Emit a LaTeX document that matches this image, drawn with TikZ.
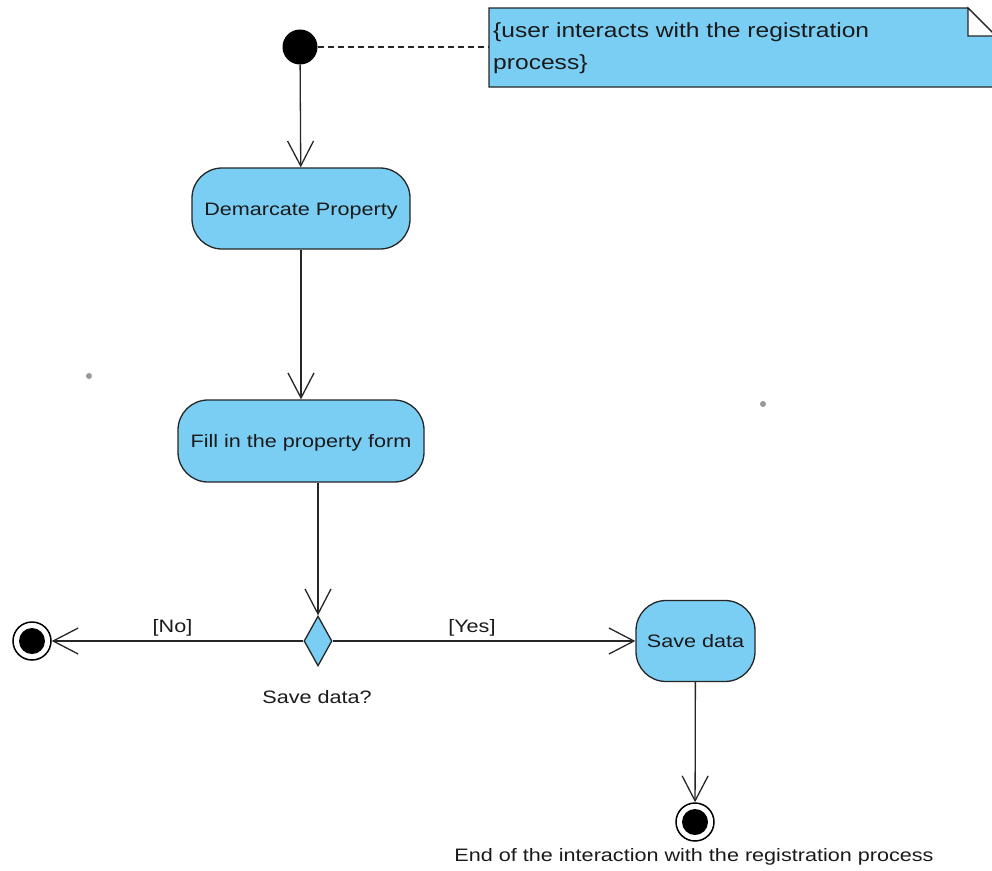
\documentclass[tikz,border=0pt]{standalone}
\usepackage{fontspec}
\setmainfont{Liberation Sans}
\newfontfamily\umlfont[FakeStretch=1.2]{Liberation Sans}
\usetikzlibrary{arrows.meta,shapes.geometric}
\definecolor{umlblue}{RGB}{122,206,244}
\definecolor{umltext}{RGB}{26,26,26}

\begin{document}
\begin{tikzpicture}[x=1pt,y=-1pt,
  action/.style={draw=black!85, line width=1.3pt, fill=umlblue,
    rounded corners=30pt, inner sep=0pt, text=umltext,
    text height=13pt, text depth=0pt,
    font=\umlfont\fontsize{18}{22}\selectfont},
  decision/.style={diamond, draw=black!85, line width=1.3pt, fill=umlblue,
    minimum width=28pt, minimum height=50pt, inner sep=0pt},
  initial/.style={circle, fill=black, minimum size=35pt, inner sep=0pt},
  final/.style={circle, draw=black, line width=1.5pt, fill=white,
    minimum size=38pt, inner sep=0pt,
    path picture={\fill[black] (path picture bounding box.center) circle (13pt);}},
  flow/.style={draw=black!85, line width=1.3pt,
    -{Straight Barb[length=25pt,width=26pt]}},
  guard/.style={text=umltext, font=\umlfont\fontsize{18}{21}\selectfont},
  anchorline/.style={draw=black!85, line width=1.2pt, dash pattern=on 6pt off 4pt},
  dot/.style={fill=black!40}
]
\useasboundingbox (0,0) rectangle (992,870);
\clip (0,0) rectangle (992,870);

% comment note with a folded corner
\filldraw[fill=umlblue, draw=black!85, line width=1.3pt]
  (489,8) -- (968,8) -- (996,36) -- (996,87) -- (489,87) -- cycle;
\filldraw[fill=white, draw=black!85, line width=1.3pt]
  (968,8) -- (968,36) -- (996,36) -- cycle;
\node[anchor=north west, align=left, inner sep=0pt, text=umltext,
  font=\umlfont\fontsize{20.5}{32}\selectfont] (notetext) at (493,22)
  {\{user interacts with the registration\\process\}};
\coordinate (noteedge) at (489,47);

% activity nodes
\node[initial] (start) at (300,47) {};
\node[action, minimum width=218pt, minimum height=81pt] (demarcate) at (301,208.5) {Demarcate Property};
\node[action, minimum width=246pt, minimum height=82pt] (fill) at (301,441) {Fill in the property form};
\node[decision] (dec) at (318,641) {};
\node[action, minimum width=119pt, minimum height=81pt] (save) at (695.5,641) {Save data};
\node[final] (endL) at (32,641) {};
\node[final] (endB) at (695,822) {};

% node labels
\node[guard] (declabel) at (317,697) {Save data?};
\node[guard] (endlabel) at (694,857) {End of the interaction with the registration process};

% connectors
\draw[anchorline] (start.east) -- (noteedge);
\draw[flow] (start) -- (demarcate);
\draw[flow] (demarcate) -- (fill);
\draw[flow] (dec |- fill.south) -- (dec.north);
\draw[flow] (dec.west) -- node[guard, above=1pt, pos=0.52] (nolabel) {[No]} (endL);
\draw[flow] (dec.east) -- node[guard, above=1pt, pos=0.46] (yeslabel) {[Yes]} (save.west);
\draw[flow] (save) -- (endB);

% stray grid dots
\fill[dot] (89,376) circle (3pt);
\fill[dot] (763,404) circle (3pt);
\end{tikzpicture}
\end{document}
